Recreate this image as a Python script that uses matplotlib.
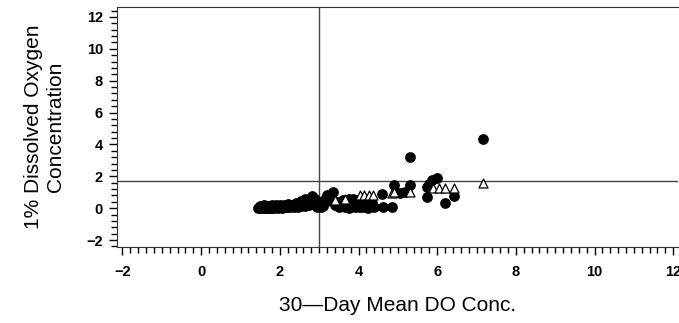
import numpy as np
import matplotlib.pyplot as plt
from matplotlib.ticker import MultipleLocator

# filled circles
circle_x = [1.45, 1.5, 1.55, 1.6, 1.65, 1.7, 1.75, 1.8, 1.85, 1.9, 1.95, 2.0, 2.05, 2.1,
            2.15, 2.2, 2.25, 2.3, 2.35, 2.4, 2.45, 2.5, 2.55, 2.6, 2.65, 2.7, 2.75, 2.81,
            2.85, 2.9, 2.95, 3.0, 3.05, 3.1, 3.15, 3.2, 3.27, 3.3, 3.36, 3.4, 3.5, 3.55,
            3.6, 3.65, 3.7, 3.75, 3.8, 3.86, 3.9, 3.95, 4.0, 4.05, 4.1, 4.15, 4.2, 4.3,
            4.4, 4.59, 4.63, 4.85, 4.89, 5.06, 5.18, 5.31, 5.32, 5.74, 5.74, 5.8, 5.86,
            5.99, 6.2, 6.43, 7.16,
            1.5, 1.6, 1.7, 1.8, 1.9, 2.0, 2.1, 2.2, 2.3, 2.4, 2.5, 2.6, 2.7, 2.8, 2.9,
            3.45, 3.55, 3.65, 3.75, 3.85, 3.95, 4.05, 4.15, 4.25, 4.35, 3.7, 3.9, 4.1,
            2.55, 2.65, 2.75, 3.1, 3.2]
circle_y = [0.0, 0.02, 0.0, 0.03, 0.01, 0.02, 0.0, 0.04, 0.02, 0.05, 0.03, 0.06, 0.04, 0.08,
            0.05, 0.1, 0.07, 0.12, 0.08, 0.15, 0.1, 0.2, 0.12, 0.25, 0.15, 0.35, 0.2, 0.75,
            0.3, 0.25, 0.1, 0.4, 0.05, 0.3, 0.6, 0.8, 0.82, 0.5, 1.03, 0.2, 0.05, 0.3,
            0.5, 0.1, 0.4, 0.55, 0.2, 0.6, 0.1, 0.35, 0.05, 0.3, 0.1, 0.45, 0.05, 0.2,
            0.1, 0.87, 0.05, 0.09, 1.45, 0.93, 1.03, 1.45, 3.23, 1.34, 0.72, 1.55, 1.76,
            1.87, 0.3, 0.78, 4.34,
            0.15, 0.18, 0.16, 0.2, 0.18, 0.22, 0.2, 0.25, 0.22, 0.3, 0.28, 0.4, 0.45, 0.5, 0.55,
            0.4, 0.15, 0.35, 0.0, 0.3, 0.5, 0.15, 0.4, 0.0, 0.35, 0.25, 0.45, 0.3,
            0.45, 0.55, 0.6, 0.15, 0.45]

# open triangles
tri_x = [3.4, 3.65, 4.04, 4.15, 4.26, 4.37, 4.84, 4.9, 5.31, 5.9, 6.05, 6.2, 6.43, 7.16]
tri_y = [0.5, 0.55, 0.82, 0.82, 0.82, 0.8, 0.93, 1.0, 1.03, 1.25, 1.24, 1.24, 1.28, 1.6]

ref_x = 3.0
ref_y = 1.72

fig = plt.figure(figsize=(6.79, 3.23), dpi=100)
ax = fig.add_axes([0.172, 0.235, 0.827, 0.743])

ax.scatter(circle_x, circle_y, s=60, c='black', marker='o', linewidths=0, zorder=3)
ax.scatter(tri_x, tri_y, s=42, facecolors='white', edgecolors='black', marker='^',
           linewidths=0.9, zorder=4)

ax.axvline(ref_x, color='#444444', lw=1.0, zorder=2)
ax.axhline(ref_y, color='#444444', lw=1.0, zorder=2)

ax.set_xlim(-2.145, 12.13)
ax.set_ylim(-2.44, 12.62)
ax.set_xticks(np.arange(-2, 13, 2))
ax.set_yticks(np.arange(-2, 13, 2))
ax.xaxis.set_minor_locator(MultipleLocator(0.2))
ax.yaxis.set_minor_locator(MultipleLocator(0.4))
ax.tick_params(which='major', length=6, width=1.0, direction='out')
ax.tick_params(which='minor', length=4, width=1.0, direction='out')
ax.tick_params(axis='x', pad=7)
ax.tick_params(axis='y', pad=4)

for lab in ax.get_xticklabels() + ax.get_yticklabels():
    lab.set_fontfamily('Liberation Sans')
    lab.set_fontweight('bold')
    lab.set_fontsize(10.5)

ax.spines['right'].set_visible(False)
for s in ['left', 'bottom', 'top']:
    ax.spines[s].set_color('#333333')

ax.set_xlabel('30\u2014Day Mean DO Conc.', fontsize=15, family='Liberation Sans', labelpad=12)
ax.set_ylabel('1% Dissolved Oxygen\nConcentration', fontsize=15, family='Liberation Sans',
              labelpad=15, linespacing=1.2)

fig.savefig('out.png', dpi=100)
